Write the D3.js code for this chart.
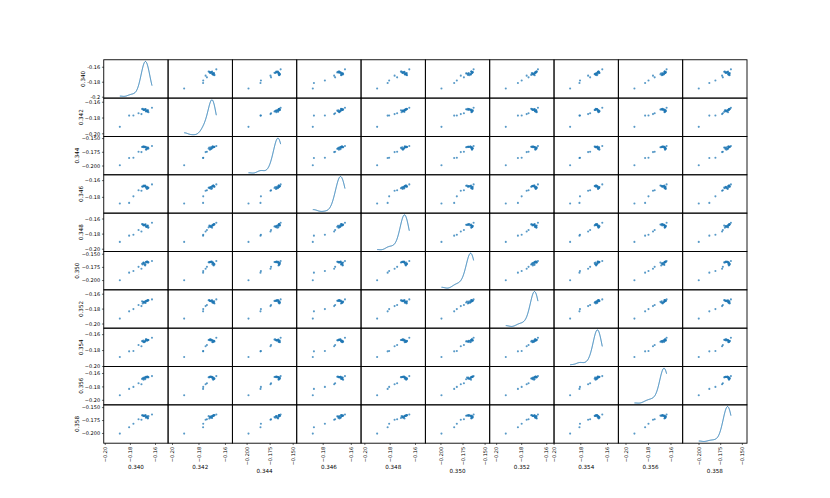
<!DOCTYPE html>
<html><head><meta charset="utf-8">
<script src="https://cdn.jsdelivr.net/npm/d3@7"></script>
<style>
body{margin:0;background:#fff}
svg{display:block}
text{font-family:"DejaVu Sans",sans-serif;fill:#000}
</style>
</head><body>
<svg id="chart" width="830" height="498"></svg>
<script>
// ---- data ----
const columns = ["0.340","0.342","0.344","0.346","0.348","0.350","0.352","0.354","0.356","0.358"];
const v340 = [-0.1884,-0.1810,-0.1776,-0.1712,-0.1735,
  -0.1679,-0.1669,-0.1692,-0.1661,-0.1684,-0.1674,-0.1702,-0.1666,-0.1697,-0.1656,-0.1682,-0.1672,-0.1707,-0.1664,-0.1689,-0.1659,-0.1695,-0.1677,-0.1628];
const v342 = [-0.1912,-0.1769,-0.1768,-0.1750,-0.1740,
  -0.1687,-0.1706,-0.1697,-0.1722,-0.1691,-0.1718,-0.1683,-0.1703,-0.1695,-0.1727,-0.1689,-0.1710,-0.1685,-0.1715,-0.1699,-0.1701,-0.1693,-0.1713,-0.1669];
const v344 = [-0.1985,-0.1855,-0.1850,-0.1746,-0.1740,
  -0.1652,-0.1687,-0.1645,-0.1664,-0.1655,-0.1703,-0.1650,-0.1676,-0.1646,-0.1683,-0.1659,-0.1660,-0.1653,-0.1680,-0.1648,-0.1668,-0.1657,-0.1695,-0.1636];
const v346 = [-0.1874,-0.1866,-0.1788,-0.1722,-0.1715,
  -0.1669,-0.1700,-0.1664,-0.1684,-0.1660,-0.1688,-0.1673,-0.1675,-0.1667,-0.1686,-0.1662,-0.1679,-0.1671,-0.1695,-0.1666,-0.1691,-0.1658,-0.1677,-0.1645];
const v348 = [-0.1903,-0.1820,-0.1808,-0.1765,-0.1745,
  -0.1669,-0.1702,-0.1685,-0.1687,-0.1678,-0.1700,-0.1671,-0.1692,-0.1683,-0.1710,-0.1676,-0.1705,-0.1667,-0.1690,-0.1680,-0.1715,-0.1673,-0.1697,-0.1649];
const v350 = [-0.1994,-0.1850,-0.1820,-0.1775,-0.1740,
  -0.1685,-0.1644,-0.1669,-0.1655,-0.1705,-0.1648,-0.1695,-0.1640,-0.1664,-0.1653,-0.1715,-0.1646,-0.1680,-0.1642,-0.1690,-0.1657,-0.1659,-0.1650,-0.1630];
const v352 = [-0.1927,-0.1830,-0.1800,-0.1760,-0.1745,
  -0.1719,-0.1687,-0.1714,-0.1680,-0.1698,-0.1690,-0.1724,-0.1685,-0.1706,-0.1681,-0.1711,-0.1694,-0.1696,-0.1689,-0.1709,-0.1683,-0.1701,-0.1692,-0.1670];
const v354 = [-0.1880,-0.1810,-0.1806,-0.1745,-0.1730,
  -0.1677,-0.1670,-0.1696,-0.1665,-0.1683,-0.1662,-0.1687,-0.1673,-0.1675,-0.1668,-0.1685,-0.1663,-0.1679,-0.1672,-0.1693,-0.1667,-0.1689,-0.1660,-0.1639];
const v356 = [-0.1925,-0.1830,-0.1800,-0.1760,-0.1745,
  -0.1672,-0.1648,-0.1678,-0.1658,-0.1659,-0.1653,-0.1675,-0.1649,-0.1665,-0.1656,-0.1687,-0.1652,-0.1681,-0.1646,-0.1662,-0.1655,-0.1694,-0.1650,-0.1639];
const v358 = [-0.2003,-0.1881,-0.1811,-0.1734,-0.1725,
  -0.1645,-0.1669,-0.1659,-0.1710,-0.1652,-0.1682,-0.1648,-0.1690,-0.1663,-0.1665,-0.1656,-0.1686,-0.1650,-0.1674,-0.1661,-0.1702,-0.1654,-0.1694,-0.1632];
const series = [v340,v342,v344,v346,v348,v350,v352,v354,v356,v358];

// tick sets (values and their labels)
const ticksA = [-0.20,-0.18,-0.16];
const ticksALabels = ["\u22120.20","\u22120.18","\u22120.16"];
const ticksB = [-0.200,-0.175,-0.150];
const ticksBLabels = ["\u22120.200","\u22120.175","\u22120.150"];
const tickSetOf = ["A","A","B","A","A","B","A","A","A","B"];
const cornerYLabels = ["-0.2","-0.18","-0.16"];   // top-left diagonal cell labels

// ---- layout ----
const W = 830, H = 498;
const pL = 103.75, pR = 747, pT = 59.76, pB = 443.2;
const n = columns.length;
const cw = (pR-pL)/n, ch = (pB-pT)/n;
const rangePadding = 1.0;
const color = "#1f77b4";
const tickFont = 5, labelFont = 5.6;

const svg = d3.select("#chart");
svg.append("rect").attr("width",W).attr("height",H).attr("fill","#fff");

const domains = series.map(s => {
  const mn = d3.min(s), mx = d3.max(s), e = (mx-mn)*rangePadding/2;
  return [mn-e, mx+e];
});
const xs = domains.map((d,j) => d3.scaleLinear().domain(d).range([pL+j*cw, pL+(j+1)*cw]));
const ys = domains.map((d,i) => d3.scaleLinear().domain(d).range([pT+(i+1)*ch, pT+i*ch]));

function kde(vals, grid){
  const m = vals.length, sd = d3.deviation(vals), bw = Math.pow(m,-0.2)*sd;
  return grid.map(x => [x, d3.mean(vals, v => Math.exp(-0.5*((x-v)/bw)**2))/(bw*Math.sqrt(2*Math.PI))]);
}

for (let i=0;i<n;i++){
  for (let j=0;j<n;j++){
    const g = svg.append("g");
    if (i===j){
      const s = series[i];
      const mn = d3.min(s), mx = d3.max(s);
      const grid = d3.range(400).map(k => mn + (mx-mn)*k/399);
      const dens = kde(s, grid);
      const dmin = d3.min(dens, d=>d[1]), dmax = d3.max(dens, d=>d[1]);
      const m = (dmax-dmin)*0.05;
      const yk = d3.scaleLinear().domain([dmin-m, dmax+m]).range([pT+(i+1)*ch, pT+i*ch]);
      g.append("path").datum(dens)
        .attr("fill","none").attr("stroke",color).attr("stroke-width",1)
        .attr("d", d3.line().x(d=>xs[j](d[0])).y(d=>yk(d[1])));
    } else {
      const pts = series[j].map((x,k) => [x, series[i][k]]);
      g.selectAll("circle").data(pts).join("circle")
        .attr("cx", d=>xs[j](d[0])).attr("cy", d=>ys[i](d[1]))
        .attr("r",1.05).attr("fill",color).attr("fill-opacity",0.75);
    }
    g.append("rect")
      .attr("x", pL+j*cw).attr("y", pT+i*ch).attr("width", cw).attr("height", ch)
      .attr("fill","none").attr("stroke","#000").attr("stroke-width",0.9);
  }
}

// ---- y axes (left column) ----
for (let i=0;i<n;i++){
  const set = tickSetOf[i]==="A" ? ticksA : ticksB;
  let labels = tickSetOf[i]==="A" ? ticksALabels : ticksBLabels;
  if (i===0) labels = cornerYLabels;
  const dom = domains[i];
  const g = svg.append("g");
  let minX = pL;
  set.forEach((t,k) => {
    if (t < dom[0] || t > dom[1]) return;
    const y = ys[i](t);
    g.append("line").attr("x1",pL-1.8).attr("x2",pL).attr("y1",y).attr("y2",y)
      .attr("stroke","#000").attr("stroke-width",0.6);
    const tx = g.append("text").attr("x",pL-3.6).attr("y",y).attr("dy","0.35em")
      .attr("text-anchor","end").attr("font-size",tickFont).text(labels[k]);
    minX = Math.min(minX, pL-3.6-tx.node().getComputedTextLength());
  });
  const cy = pT+(i+0.5)*ch;
  svg.append("text").attr("transform",`translate(${minX-2.2},${cy}) rotate(-90)`)
    .attr("text-anchor","middle").attr("font-size",labelFont).text(columns[i]);
}

// ---- x axes (bottom row) ----
for (let j=0;j<n;j++){
  const set = tickSetOf[j]==="A" ? ticksA : ticksB;
  const labels = tickSetOf[j]==="A" ? ticksALabels : ticksBLabels;
  const dom = domains[j];
  const g = svg.append("g");
  let maxY = pB;
  set.forEach((t,k) => {
    if (t < dom[0] || t > dom[1]) return;
    const x = xs[j](t);
    g.append("line").attr("x1",x).attr("x2",x).attr("y1",pB).attr("y2",pB+1.8)
      .attr("stroke","#000").attr("stroke-width",0.6);
    const tx = g.append("text").attr("transform",`translate(${x},${pB+3.6}) rotate(-90)`)
      .attr("dy","0.35em").attr("text-anchor","end").attr("font-size",tickFont).text(labels[k]);
    maxY = Math.max(maxY, pB+3.6+tx.node().getComputedTextLength());
  });
  const cx = pL+(j+0.5)*cw;
  svg.append("text").attr("x",cx).attr("y",maxY+2.2).attr("dy","0.9em")
    .attr("text-anchor","middle").attr("font-size",labelFont).text(columns[j]);
}
</script>
</body></html>
